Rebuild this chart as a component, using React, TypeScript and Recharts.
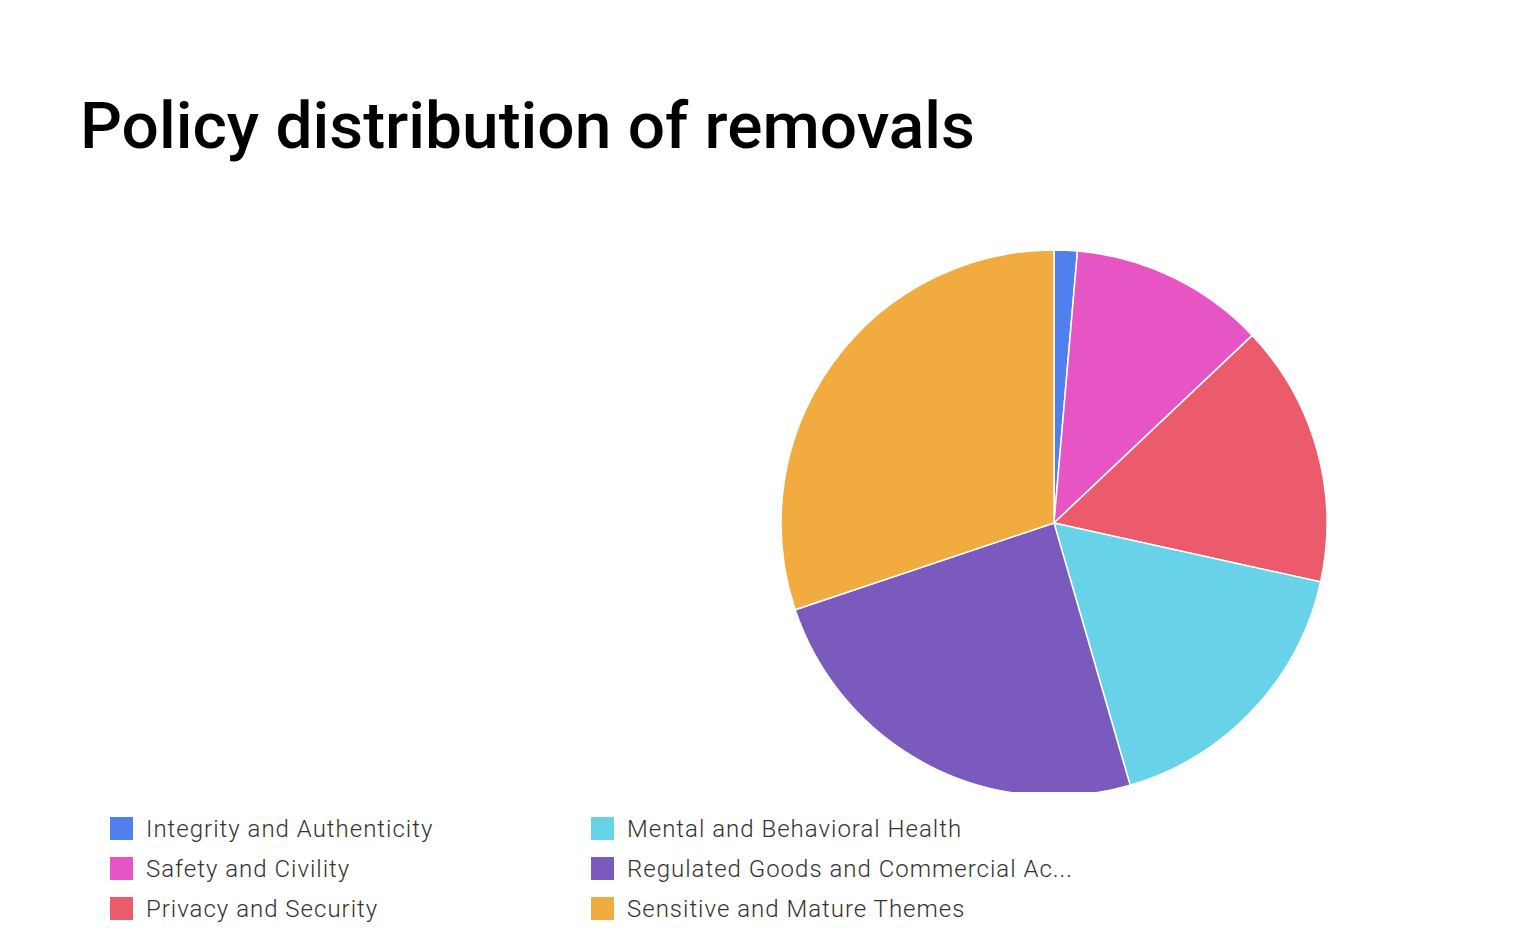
import { PieChart, Pie, Cell } from 'recharts';

const categories = [
  'Integrity and Authenticity',
  'Safety and Civility',
  'Privacy and Security',
  'Mental and Behavioral Health',
  'Regulated Goods and Commercial Ac...',
  'Sensitive and Mature Themes',
];
const shares = [1.37, 11.57, 15.52, 17.04, 24.35, 30.15];
const colors = ['#4F80EE', '#E655C3', '#EC5B6B', '#67D2E8', '#7A5ABC', '#F2AB3F'];

const data = categories.map((name, i) => ({ name, value: shares[i] }));

// legend is column-major: 3 rows, 2 columns
const ROWS = 3;

export default function App() {
  return (
    <div style={{ position: 'relative', width: 1524, height: 936, background: '#fff' }}>
      <svg width={1524} height={200} style={{ position: 'absolute', left: 0, top: 0 }}>
        <text
          x={72}
          y={140}
          fontFamily="Roboto, sans-serif"
          fontSize={65}
          fontWeight={500}
          fill="#000"
          textLength={895}
          lengthAdjust="spacingAndGlyphs"
        >
          Policy distribution of removals
        </text>
      </svg>
      <div style={{ position: 'absolute', left: 0, top: 0 }}>
        <PieChart width={1524} height={784}>
          <Pie
            data={data}
            dataKey="value"
            nameKey="name"
            cx={1041}
            cy={510}
            outerRadius={273}
            startAngle={90}
            endAngle={-270}
            stroke="#fff"
            strokeWidth={1.5}
            isAnimationActive={false}
          >
            {data.map((d, i) => (
              <Cell key={d.name} fill={colors[i]} />
            ))}
          </Pie>
        </PieChart>
      </div>
      {categories.map((name, i) => {
        const col = Math.floor(i / ROWS);
        const row = i % ROWS;
        const top = 809 + row * 40;
        const left = 102 + col * 481;
        return (
          <div key={name} style={{ position: 'absolute', left, top, display: 'flex', alignItems: 'center', height: 23 }}>
            <div style={{ width: 23, height: 23, background: colors[i] }} />
            <span
              style={{
                marginLeft: 13,
                fontFamily: 'Roboto, sans-serif',
                fontWeight: 300,
                fontSize: 24,
                letterSpacing: 1,
                color: '#333',
                whiteSpace: 'nowrap',
              }}
            >
              {name}
            </span>
          </div>
        );
      })}
    </div>
  );
}
